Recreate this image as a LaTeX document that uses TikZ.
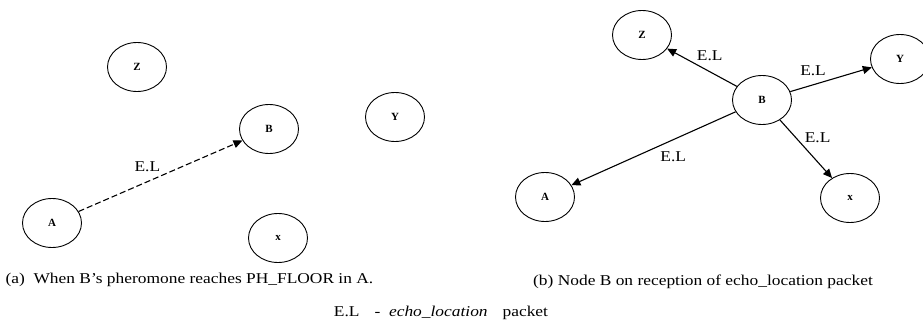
\documentclass[tikz,border=0pt]{standalone}
\usepackage{fontspec}
\setmainfont{Liberation Serif}
\newfontfamily\capfont[FakeStretch=1.16]{Liberation Serif}
\usetikzlibrary{arrows.meta,shapes.geometric}

\begin{document}
\begin{tikzpicture}[x=1pt, y=-1pt,
    host/.style={draw, ellipse, minimum width=59pt, minimum height=49pt, inner sep=0pt, font=\fontsize{11}{12}\selectfont\bfseries, line width=0.9pt},
    echo/.style={-{Triangle[length=9pt,width=8pt]}, line width=1.1pt},
    lbl/.style={font=\capfont\fontsize{15}{17}\selectfont},
    caption/.style={font=\capfont\fontsize{15}{17}\selectfont}
]
\useasboundingbox (0,0) rectangle (923,326);

% (a) before
\node[host] (za) at (137,67) {Z};
\node[host] (ba) at (269,129) {B};
\node[host] (ya) at (395,117) {Y};
\node[host] (aa) at (52,223) {A};
\node[host] (xa) at (278,238) {x};

\draw[echo, dash pattern=on 6pt off 3pt] (aa) -- node[lbl, pos=.42, yshift=15pt] {E.L} (ba);

\node[caption, anchor=west] (capa) at (2,280) {(a)\ \ When B’s pheromone reaches PH\_FLOOR in A.};

% (b) after
\node[host] (zb) at (642,35) {Z};
\node[host] (bb) at (762,100) {B};
\node[host] (yb) at (900,59) {Y};
\node[host] (ab) at (545,197) {A};
\node[host] (xb) at (850,198) {x};

\draw[echo] (bb) -- node[lbl, pos=.39, yshift=16pt] {E.L} (zb);
\draw[echo] (bb) -- node[lbl, pos=.28, yshift=14pt] {E.L} (yb);
\draw[echo] (bb) -- node[lbl, pos=.3, xshift=22pt] {E.L} (xb);
\draw[echo] (bb) -- node[lbl, pos=.38, yshift=-17pt] {E.L} (ab);

\node[caption] (capb) at (703,282) {(b) Node B on reception of echo\_location packet};

% legend
\node[caption] (key) at (441,313) {E.L\quad-\ \ \textit{echo\_location}\quad packet};
\end{tikzpicture}
\end{document}
